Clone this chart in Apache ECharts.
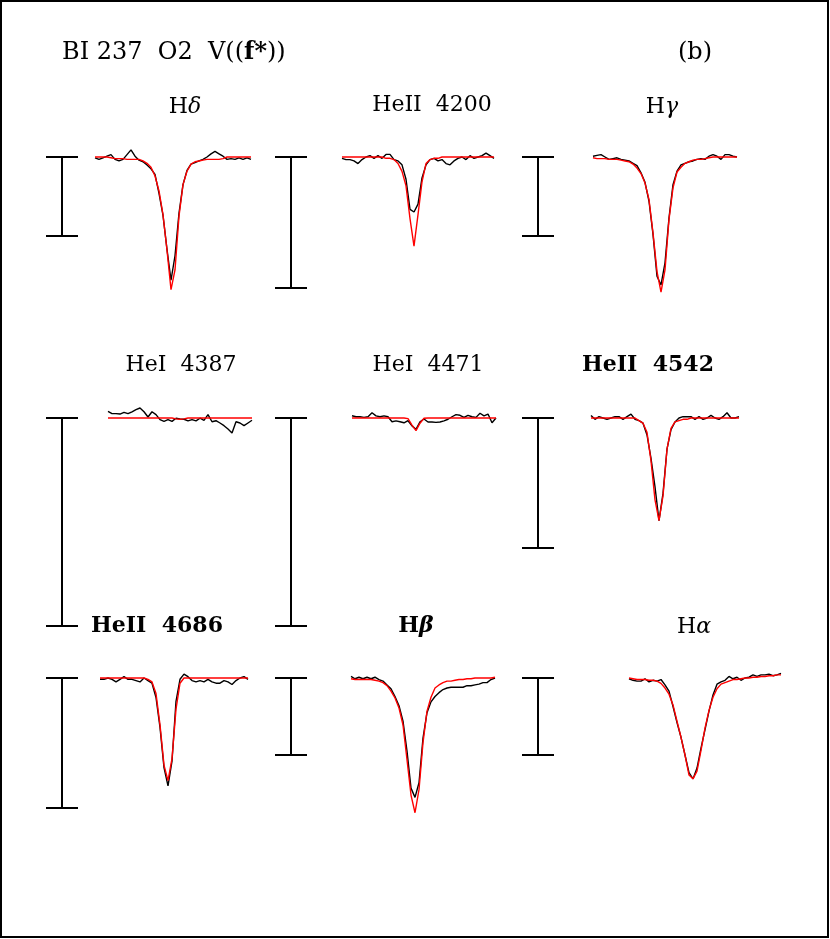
<!DOCTYPE html>
<html>
<head>
<meta charset="utf-8">
<title>BI 237 line fits</title>
<script src="https://cdn.jsdelivr.net/npm/echarts@6/dist/echarts.min.js"></script>
<style>
  html, body { margin: 0; padding: 0; background: #fff; }
  #chart { width: 830px; height: 939px; }
</style>
</head>
<body>
<div id="chart"></div>
<script>
// normalised flux, sampled every 1 A starting at xxStart (A from line centre)
const hdStart = -19
const hdObs = [0.999,0.997,0.999,1.001,1.003,0.997,0.995,0.997,1.003,1.009,1.001,0.996,0.994,0.990,0.985,0.978,0.954,0.926,0.883,0.844,0.875,0.929,0.965,0.983,0.991,0.993,0.995,0.997,1.000,1.004,1.007,1.004,1.001,0.997,0.998,0.997,0.999,0.997,0.999,0.997]
const hdFit = [1.000,1.000,1.000,1.000,0.999,0.998,0.998,0.998,0.997,0.997,0.997,0.997,0.995,0.992,0.987,0.976,0.957,0.927,0.882,0.832,0.857,0.925,0.965,0.982,0.991,0.994,0.995,0.996,0.997,0.997,0.997,0.997,0.998,1.000,1.000,1.000,1.000,1.000,1.000,1.000]

const he4200Start = -18
const he4200Obs = [0.999,0.998,0.998,0.997,0.995,0.998,1.000,1.001,0.999,1.001,0.999,1.002,1.002,0.998,0.997,0.994,0.983,0.960,0.958,0.964,0.984,0.994,0.998,0.999,0.997,0.998,0.995,0.994,0.997,0.999,1.000,0.998,1.001,0.999,1.000,1.001,1.003,1.001,0.999]
const he4200Fit = [1.000,1.000,1.000,1.000,1.000,1.000,1.000,1.000,1.000,1.000,1.000,0.999,0.999,0.998,0.995,0.989,0.978,0.953,0.932,0.956,0.981,0.995,0.998,0.999,0.999,1.000,1.000,1.000,1.000,1.000,1.000,1.000,1.000,1.000,1.000,1.000,1.000,1.000,1.000]

const hgStart = -17
const hgObs = [1.001,1.002,1.003,1.000,0.997,0.998,0.999,0.997,0.996,0.995,0.992,0.989,0.980,0.968,0.944,0.902,0.849,0.838,0.866,0.923,0.965,0.982,0.990,0.992,0.994,0.995,0.997,0.998,0.997,1.001,1.003,1.001,0.997,1.003,1.003,1.001,1.000]
const hgFit = [0.999,0.998,0.998,0.998,0.997,0.997,0.997,0.996,0.995,0.994,0.991,0.986,0.979,0.967,0.946,0.904,0.855,0.829,0.857,0.921,0.961,0.981,0.987,0.992,0.994,0.996,0.997,0.997,0.998,0.999,1.000,1.000,1.000,1.000,1.000,1.000,1.000]

const he4387Start = -18
const he4387Obs = [1.0032,1.0021,1.0021,1.0019,1.0027,1.0021,1.0030,1.0040,1.0048,1.0030,1.0005,1.0030,1.0016,0.9992,0.9984,0.9992,0.9984,0.9999,0.9995,0.9994,0.9986,0.9992,0.9986,0.9999,0.9989,1.0016,0.9982,0.9987,0.9976,0.9963,0.9947,0.9928,0.9982,0.9976,0.9963,0.9976,0.9989]
const he4387Fit = [1,1,1,1,1,1,1,1,1,1,1,1,1,1,1,1,1,0.9996,0.9994,0.9996,1,1,1,1,1,1,1,1,1,1,1,1,1,1,1,1,1]

const he4471Start = -16
const he4471Obs = [1.0011,1.0006,1.0006,1.0003,1.0006,1.0025,1.0010,1.0006,1.0010,1.0006,0.9982,0.9986,0.9982,0.9977,0.9987,0.9962,0.9946,0.9982,0.9995,0.9981,0.9981,0.9979,0.9981,0.9986,0.9994,1.0006,1.0016,1.0013,1.0003,1.0013,1.0006,1.0003,1.0023,1.0010,1.0019,0.9977,1.0000]
const he4471Fit = [1,1,1,1,1,1,1,1,1,1,1,1,1,1,0.9997,0.9966,0.9939,0.9975,0.9999,1,1,1,1,1,1,1,1,1,1,1,1,1,1,1,1,1,1]

const he4542Start = -17
const he4542Obs = [1.002,0.999,1.001,1.000,0.999,1.000,1.001,1.001,0.999,1.001,1.003,0.999,0.998,0.996,0.987,0.969,0.947,0.921,0.942,0.976,0.991,0.997,1.000,1.001,1.001,1.001,0.999,1.001,0.999,1.000,1.002,1.000,0.999,1.001,1.004,1.000,1.000,1.001]
const he4542Fit = [1.000,1.000,1.000,1.000,1.000,1.000,1.000,1.000,1.000,1.000,1.000,1.000,0.998,0.996,0.989,0.967,0.937,0.921,0.940,0.976,0.992,0.997,0.998,0.999,0.999,1.000,1.000,1.000,1.000,1.000,1.000,1.000,1.000,1.000,1.000,1.000,1.000,1.000]

const he4686Start = -17
const he4686Obs = [0.999,0.999,1.000,0.999,0.997,0.999,1.001,0.999,0.999,0.998,0.997,1.000,0.998,0.996,0.985,0.962,0.931,0.917,0.936,0.982,0.999,1.003,1.001,0.998,0.997,0.998,0.997,0.999,0.997,0.996,0.996,0.998,0.997,0.995,0.998,1.000,1.001,0.999]
const he4686Fit = [1.000,1.000,1.000,1.000,1.000,1.000,1.000,1.000,1.000,1.000,1.000,1.000,0.999,0.997,0.988,0.964,0.933,0.921,0.938,0.976,0.996,1.000,1.000,1.000,1.000,1.000,1.000,1.000,1.000,1.000,1.000,1.000,1.000,1.000,1.000,1.000,1.000,1.000]

const hbStart = -16
const hbObs = [1.002,0.999,1.001,0.999,1.001,0.999,1.001,0.998,0.996,0.991,0.986,0.976,0.964,0.944,0.905,0.857,0.845,0.864,0.922,0.955,0.969,0.976,0.981,0.985,0.987,0.988,0.988,0.988,0.988,0.990,0.990,0.991,0.992,0.994,0.994,0.998,1.000]
const hbFit = [0.999,0.998,0.998,0.998,0.998,0.998,0.997,0.996,0.994,0.990,0.983,0.974,0.961,0.939,0.894,0.848,0.825,0.855,0.916,0.957,0.975,0.987,0.991,0.994,0.996,0.996,0.997,0.998,0.998,0.999,0.999,1.000,1.000,1.000,1.000,1.000,1.001]

const haStart = -16
const haObs = [0.999,0.997,0.996,0.996,0.999,0.995,0.997,0.996,0.998,0.991,0.983,0.963,0.942,0.923,0.900,0.877,0.869,0.883,0.909,0.933,0.957,0.978,0.992,0.995,0.997,1.002,0.999,1.001,0.997,1.000,1.001,1.004,1.002,1.004,1.004,1.005,1.003,1.004,1.006]
const haFit = [1.000,0.999,0.998,0.998,0.998,0.997,0.997,0.996,0.993,0.987,0.979,0.965,0.944,0.923,0.900,0.874,0.869,0.879,0.906,0.935,0.958,0.975,0.986,0.992,0.994,0.996,0.998,0.998,0.999,1.000,1.000,1.001,1.001,1.002,1.002,1.003,1.003,1.004,1.004]

// length of the scale bar in each panel (flux units)
const barFlux = [0.1, 0.1, 0.1, 0.1, 0.1, 0.1, 0.1, 0.1, 0.1]

// panel layout: line centre x, continuum y, scale bar x and bar length in px
const panels = [
  {obs: hdObs, fit: hdFit, start: hdStart, coreX: 171, contY: 157, barX: 62, barPx: 79},
  {obs: he4200Obs, fit: he4200Fit, start: he4200Start, coreX: 414, contY: 157, barX: 291, barPx: 131},
  {obs: hgObs, fit: hgFit, start: hgStart, coreX: 661, contY: 157, barX: 538, barPx: 79},
  {obs: he4387Obs, fit: he4387Fit, start: he4387Start, coreX: 180, contY: 418, barX: 62, barPx: 208},
  {obs: he4471Obs, fit: he4471Fit, start: he4471Start, coreX: 416, contY: 418, barX: 291, barPx: 208},
  {obs: he4542Obs, fit: he4542Fit, start: he4542Start, coreX: 659, contY: 418, barX: 538, barPx: 130},
  {obs: he4686Obs, fit: he4686Fit, start: he4686Start, coreX: 168, contY: 678, barX: 62, barPx: 130},
  {obs: hbObs, fit: hbFit, start: hbStart, coreX: 415, contY: 678, barX: 291, barPx: 77},
  {obs: haObs, fit: haFit, start: haStart, coreX: 693, contY: 678, barX: 538, barPx: 77},
]

const pxPerA = 4
const FONT = '"DejaVu Serif", "Liberation Serif", serif'

const chart = echarts.init(document.getElementById('chart'))

const grid = [], xAxis = [], yAxis = [], series = []
panels.forEach((p, i) => {
  const ppu = p.barPx / barFlux[i]
  const left = p.barX - 20
  const top = p.contY - 40
  const h = 200
  grid.push({left: left, top: top, width: p.coreX + 100 - left, height: h})
  xAxis.push({type: 'value', gridIndex: i, show: false, min: (left - p.coreX) / pxPerA, max: 100 / pxPerA})
  yAxis.push({type: 'value', gridIndex: i, show: false, min: 1 + 40 / ppu - h / ppu, max: 1 + 40 / ppu})

  const toXY = arr => arr.map((f, k) => [p.start + k, f])
  series.push({
    type: 'line', xAxisIndex: i, yAxisIndex: i, data: toXY(p.obs),
    showSymbol: false, lineStyle: {color: '#000', width: 1.4}, z: 2
  })
  series.push({
    type: 'line', xAxisIndex: i, yAxisIndex: i, data: toXY(p.fit),
    showSymbol: false, lineStyle: {color: '#ff0000', width: 1.4}, z: 3
  })
  // scale bar
  series.push({
    type: 'custom', xAxisIndex: i, yAxisIndex: i, clip: false, silent: true,
    data: [[(p.barX - p.coreX) / pxPerA, 1, 1 - barFlux[i]]],
    renderItem: (params, api) => {
      const a = api.coord([api.value(0), api.value(1)])
      const b = api.coord([api.value(0), api.value(2)])
      const w = 16
      const st = {stroke: '#000', lineWidth: 2}
      return {
        type: 'group',
        children: [
          {type: 'line', shape: {x1: a[0], y1: a[1], x2: b[0], y2: b[1]}, style: st},
          {type: 'line', shape: {x1: a[0] - w, y1: a[1], x2: a[0] + w, y2: a[1]}, style: st},
          {type: 'line', shape: {x1: b[0] - w, y1: b[1], x2: b[0] + w, y2: b[1]}, style: st},
        ]
      }
    }
  })
})

const rich = {
  r: {fontFamily: FONT, fontSize: 22, color: '#000'},
  b: {fontFamily: FONT, fontSize: 22, fontWeight: 'bold', color: '#000'},
  g: {fontFamily: FONT, fontSize: 22, fontStyle: 'italic', color: '#000'},
  gb: {fontFamily: FONT, fontSize: 22, fontStyle: 'italic', fontWeight: 'bold', color: '#000'},
  t: {fontFamily: FONT, fontSize: 24, color: '#000'},
  tb: {fontFamily: FONT, fontSize: 24, fontWeight: 'bold', color: '#000'},
}
const label = (text, x, y, align) => ({
  type: 'text', x: x, y: y,
  style: {text: text, rich: rich, align: align || 'center', verticalAlign: 'middle'}
})

const option = {
  animation: false,
  backgroundColor: '#fff',
  grid, xAxis, yAxis, series,
  graphic: [
    {type: 'rect', shape: {x: 1, y: 1, width: 827, height: 936}, style: {fill: 'none', stroke: '#000', lineWidth: 2}},
    label('{t|BI 237  O2  V((}{tb|f*}{t|))}', 62, 53, 'left'),
    label('{t|(b)}', 695, 53),
    label('{r|H}{g|δ}', 185, 107),
    label('{r|HeII  4200}', 432, 105),
    label('{r|H}{g|γ}', 662, 107),
    label('{r|HeI  4387}', 181, 365),
    label('{r|HeI  4471}', 428, 365),
    label('{b|HeII  4542}', 648, 365),
    label('{b|HeII  4686}', 157, 626),
    label('{b|H}{gb|β}', 416, 626),
    label('{r|H}{g|α}', 694, 627),
  ]
}

chart.setOption(option)
</script>
</body>
</html>
